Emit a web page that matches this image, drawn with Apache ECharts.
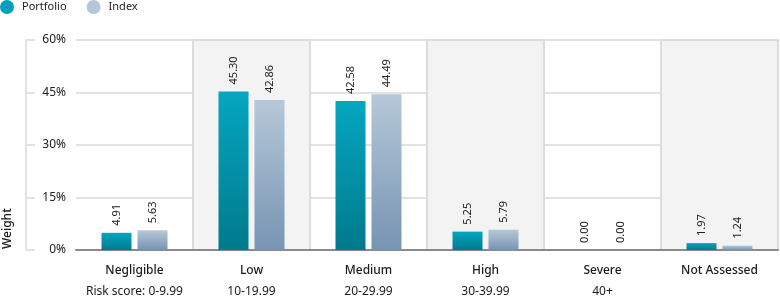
<!DOCTYPE html>
<html>
<head>
<meta charset="utf-8">
<script src="https://cdn.jsdelivr.net/npm/echarts@6/dist/echarts.min.js"></script>
<style>
html,body{margin:0;padding:0;background:#fff;}
#chart{width:780px;height:300px;}
</style>
</head>
<body>
<div id="chart"></div>
<script>
var categories = ['Negligible', 'Low', 'Medium', 'High', 'Severe', 'Not Assessed'];
var ranges = ['Risk score: 0-9.99', '10-19.99', '20-29.99', '30-39.99', '40+', ''];
var portfolio = [4.91, 45.30, 42.58, 5.25, 0.00, 1.97];
var indexVals = [5.63, 42.86, 44.49, 5.79, 0.00, 1.24];
var shadedCategories = ['Low', 'High', 'Not Assessed'];
var yTicks = [0, 15, 30, 45, 60];

var FONT = 'Noto Sans';
var chart = echarts.init(document.getElementById('chart'), null, {renderer: 'canvas'});

function grad(top, bottom) {
  return new echarts.graphic.LinearGradient(0, 0, 0, 1, [
    {offset: 0, color: top}, {offset: 1, color: bottom}
  ]);
}

var labelOpt = {
  show: true,
  position: 'top',
  rotate: 90,
  align: 'left',
  verticalAlign: 'middle',
  distance: 7,
  fontFamily: FONT,
  fontSize: 11,
  color: '#222',
  formatter: function (p) { return p.value.toFixed(2); }
};

chart.setOption({
  animation: false,
  textStyle: {fontFamily: FONT},
  legend: {
    left: 0,
    top: 0,
    padding: 0,
    icon: 'circle',
    itemWidth: 14,
    itemHeight: 14,
    itemGap: 20,
    textStyle: {fontFamily: FONT, fontSize: 11, color: '#222', padding: [0, 0, 0, 3]},
    data: [
      {name: 'Portfolio', itemStyle: {color: '#00a0bd'}},
      {name: 'Index', itemStyle: {color: '#b4c6d7'}}
    ]
  },
  grid: {left: 76, right: 2, top: 40, bottom: 50},
  xAxis: {
    type: 'category',
    data: categories,
    axisLine: {show: true, lineStyle: {color: '#8a8a8a', width: 2}},
    axisTick: {show: false},
    splitLine: {show: false},
    axisLabel: {
      margin: 10,
      interval: 0,
      formatter: function (v, i) { return '{a|' + v + '}\n{b|' + ranges[i] + '}'; },
      rich: {
        a: {fontFamily: FONT, fontSize: 12, fontWeight: 500, color: '#1a1a1a', lineHeight: 21},
        b: {fontFamily: FONT, fontSize: 12, color: '#1a1a1a', lineHeight: 21}
      }
    }
  },
  yAxis: {
    type: 'value',
    min: yTicks[0],
    max: yTicks[yTicks.length - 1],
    interval: yTicks[1] - yTicks[0],
    offset: 50,
    axisLine: {show: true, lineStyle: {color: '#e2e2e2', width: 2}},
    axisTick: {show: true, inside: true, length: 9, lineStyle: {color: '#e2e2e2', width: 2}},
    axisLabel: {
      inside: true,
      margin: 40,
      align: 'right',
      fontFamily: FONT,
      fontSize: 12,
      color: '#222',
      formatter: '{value}%'
    },
    splitLine: {show: true, lineStyle: {color: '#e2e2e2', width: 2}}
  },
  graphic: [{
    type: 'text',
    x: 2,
    y: 249,
    rotation: Math.PI / 2,
    style: {text: 'Weight', fontFamily: FONT, fontSize: 12, fontWeight: 500, fill: '#1a1a1a', textAlign: 'left', textVerticalAlign: 'top'}
  }],
  series: [
    {
      name: 'Portfolio',
      type: 'bar',
      data: portfolio,
      barWidth: 30,
      barGap: '20%',
      itemStyle: {color: grad('#05a6c1', '#007a8c')},
      label: labelOpt,
      z: 3,
      markArea: {
        silent: true,
        z: 0,
        itemStyle: {color: '#f3f3f3', borderColor: '#dcdcdc', borderWidth: 2},
        data: shadedCategories.map(function (c) { return [{xAxis: c}, {xAxis: c}]; })
      }
    },
    {
      name: 'Index',
      type: 'bar',
      data: indexVals,
      barWidth: 30,
      itemStyle: {color: grad('#b6c8d8', '#7794b3')},
      label: labelOpt,
      z: 3
    }
  ]
});
</script>
</body>
</html>
